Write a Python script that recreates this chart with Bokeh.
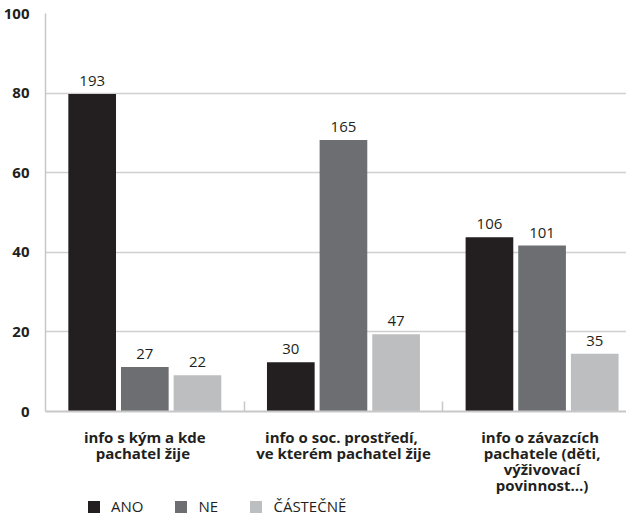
from bokeh.plotting import figure
from bokeh.layouts import column
from bokeh.models import ColumnDataSource, FixedTicker, Range1d, Legend, LegendItem
from bokeh.transform import dodge
from bokeh.core.properties import value
from bokeh.embed import file_html
from bokeh.resources import INLINE

categories = [
    "info s kým a kde\npachatel  žije",
    "info o  soc. prostředí,\nve kterém pachatel žije",
    "info  o závazcích\npachatele (děti,\nvýživovací\npovinnost…)",
]
series = ["ANO", "NE", "ČÁSTEČNĚ"]
colors = ["#231f20", "#6d6e71", "#bcbec0"]
pct_ano = [79.8, 12.4, 43.8]
pct_ne = [11.2, 68.2, 41.7]
pct_cast = [9.1, 19.4, 14.5]
cnt_ano = [193, 30, 106]
cnt_ne = [27, 165, 101]
cnt_cast = [22, 47, 35]
y_ticks = [0, 20, 40, 60, 80, 100]

FONT = "Open Sans"
centers = [i + 0.5 for i in range(len(categories))]

p = figure(width=626, height=497, output_backend="svg", toolbar_location=None,
           x_range=Range1d(0, 2.925), y_range=Range1d(0, 100),
           min_border_left=41, min_border_top=13, min_border_right=0, min_border_bottom=84)
p.outline_line_color = None
p.background_fill_color = "white"

src = ColumnDataSource(dict(
    x=centers,
    ano=pct_ano, ne=pct_ne, cast=pct_cast,
    lano=[str(v) for v in cnt_ano], lne=[str(v) for v in cnt_ne], lcast=[str(v) for v in cnt_cast],
))

offsets = [-0.265, 0.0, 0.265]
fields = ["ano", "ne", "cast"]
lfields = ["lano", "lne", "lcast"]
for name, col, off, f, lf in zip(series, colors, offsets, fields, lfields):
    p.vbar(x=dodge("x", off), top=f, width=0.24, source=src,
           fill_color=col, line_color=None)
    p.text(x=dodge("x", off), y=f, text=lf, source=src, text_align="center",
           text_baseline="bottom", y_offset=-8, text_font=value(FONT),
           text_font_size="15px", text_color="#231f20")

# axes
p.xaxis.ticker = FixedTicker(ticks=centers, minor_ticks=[1, 2])
p.xaxis.major_label_overrides = {c: lab for c, lab in zip(centers, categories)}
p.xaxis.major_tick_line_color = None
p.xaxis.minor_tick_in = 10
p.xaxis.minor_tick_out = 0
p.xaxis.minor_tick_line_color = "#c8c8c8"
p.xaxis.minor_tick_line_width = 1.5
p.xaxis.axis_line_color = "#c8c8c8"
p.xaxis.axis_line_width = 2
p.xaxis.major_label_text_font = FONT
p.xaxis.major_label_text_font_style = "bold"
p.xaxis.major_label_text_font_size = "15px"
p.xaxis.major_label_text_line_height = 0.8
p.xaxis.major_label_text_color = "#231f20"
p.xaxis.major_label_standoff = 9

p.yaxis.ticker = FixedTicker(ticks=y_ticks)
p.yaxis.major_tick_line_color = None
p.yaxis.minor_tick_line_color = None
p.yaxis.axis_line_color = "#c8c8c8"
p.yaxis.axis_line_width = 1.5
p.yaxis.major_label_text_font = FONT
p.yaxis.major_label_text_font_style = "bold"
p.yaxis.major_label_text_font_size = "15px"
p.yaxis.major_label_text_color = "#231f20"
p.yaxis.major_label_standoff = 10

p.xgrid.grid_line_color = None
p.ygrid.grid_line_color = "#d0d0d0"
p.ygrid.grid_line_width = 1.5

# legend in a separate strip below
lf_fig = figure(width=626, height=22, output_backend="svg", toolbar_location=None,
                x_range=Range1d(0, 1), y_range=Range1d(0, 1),
                x_axis_location=None, y_axis_location=None,
                min_border_left=0, min_border_right=0, min_border_top=0, min_border_bottom=0)
lf_fig.grid.visible = False
lf_fig.outline_line_color = None
items = []
for name, col, f in zip(series, colors, fields):
    r = lf_fig.vbar(x="x", top=f, width=0.24, source=src, fill_color=col,
                    line_color=None, visible=False)
    items.append(LegendItem(label=name, renderers=[r]))
legend = Legend(items=items, orientation="horizontal", location=(41, 3),
                label_text_font=FONT, label_text_font_size="15px",
                label_text_color="#231f20", glyph_width=15, glyph_height=15,
                label_standoff=10, spacing=30, padding=0, margin=0,
                label_height=15,
                border_line_color=None, background_fill_alpha=0)
lf_fig.add_layout(legend, "center")

layout = column(p, lf_fig, spacing=0)
open("out.html", "w").write(file_html(layout, INLINE))
